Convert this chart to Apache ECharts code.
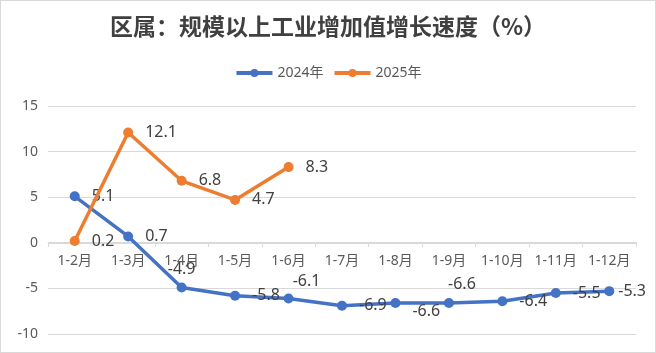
<!DOCTYPE html>
<html><head><meta charset="utf-8">
<script src="https://cdn.jsdelivr.net/npm/echarts@6/dist/echarts.min.js"></script>
<style>html,body{margin:0;padding:0;background:#fff}#c{width:654px;height:351px;border:1px solid #d9d9d9}</style>
</head><body><div id="c"></div>
<script>
var categories = ['1-2月','1-3月','1-4月','1-5月','1-6月','1-7月','1-8月','1-9月','1-10月','1-11月','1-12月'];
var values2024 = [5.1, 0.7, -4.9, -5.8, -6.1, -6.9, -6.6, -6.6, -6.4, -5.5, -5.3];
var values2025 = [0.2, 12.1, 6.8, 4.7, 8.3];
var yTicks = [-10, -5, 0, 5, 10, 15];

// label placement (style only)
var pos2024 = ['right','right','top','right','top','right','right','top','right','right','right'];
var off2024 = [[0,0],[0,0],[0,7],[0,0],[18,8],[0,0],[0,8],[13,6],[0,0],[0,0],[-8,0]];

var FONT = '"Noto Sans","Noto Sans CJK SC",sans-serif';
var chart = echarts.init(document.getElementById('c'));

var d24 = values2024.map(function(v,i){
  return {value:v, label:{position:pos2024[i], offset:off2024[i]}};
});

chart.setOption({
  animation:false,
  title:{text:'区属：规模以上工业增加值增长速度（%）', left:'center', top:9,
    textStyle:{fontFamily:'"Noto Sans CJK SC",sans-serif', fontSize:23, fontWeight:'bold', color:'#404040'}},
  legend:{top:60, left:'center', itemWidth:36, itemHeight:10, itemGap:9,
    lineStyle:{width:4},
    textStyle:{fontFamily:FONT, fontSize:14, color:'#595959'},
    data:['2024年','2025年']},
  grid:{left:47, right:19, top:105, bottom:18, containLabel:false},
  xAxis:{type:'category', data:categories, boundaryGap:true, position:'bottom', offset:-92,
    axisLine:{onZero:false, lineStyle:{color:'#d9d9d9'}},
    axisTick:{show:true, length:5, lineStyle:{color:'#d9d9d9'}},
    axisLabel:{fontFamily:FONT, fontSize:14, color:'#595959', margin:12, interval:0}},
  yAxis:{type:'value', min:yTicks[0], max:yTicks[yTicks.length-1], interval:5,
    axisLine:{show:false}, axisTick:{show:false},
    splitLine:{lineStyle:{color:'#d9d9d9'}},
    axisLabel:{fontFamily:FONT, fontSize:14, color:'#595959', margin:10}},
  series:[
    {name:'2024年', type:'line', data:d24, symbol:'circle', symbolSize:10,
      itemStyle:{color:'#4472C4'}, lineStyle:{width:3.5, color:'#4472C4'},
      label:{show:true, distance:12, fontFamily:FONT, fontSize:16, color:'#404040'}, z:3},
    {name:'2025年', type:'line', data:values2025, symbol:'circle', symbolSize:10,
      itemStyle:{color:'#ED7D31'}, lineStyle:{width:3.5, color:'#ED7D31'},
      label:{show:true, position:'right', distance:12, fontFamily:FONT, fontSize:16, color:'#404040'}, z:4}
  ]
});
</script></body></html>
